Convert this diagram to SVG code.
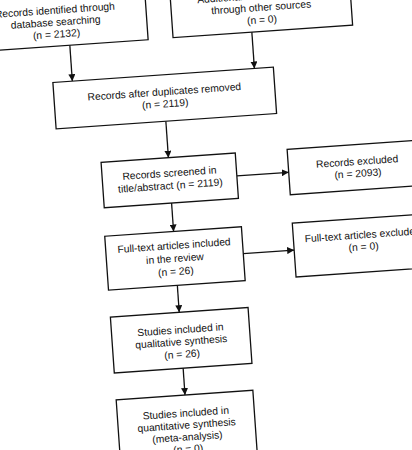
<svg xmlns="http://www.w3.org/2000/svg" width="412" height="450" viewBox="0 0 412 450">
  <style>
    .box { fill: #ffffff; stroke: #111111; stroke-width: 1.3; }
    .lbl { font-family: "Liberation Sans", Arial, sans-serif; font-size: 10.3px; fill: #111111; text-anchor: middle; }
    .conn { stroke: #111111; stroke-width: 1.3; fill: none; marker-end: url(#arrow); }
  </style>
  <defs>
    <marker id="arrow" viewBox="0 0 8 8" refX="8" refY="4" markerWidth="7" markerHeight="7" markerUnits="userSpaceOnUse" orient="auto">
      <path d="M0,0 L8,4 L0,8 Z" fill="#111111"/>
    </marker>
  </defs>
  <rect x="0" y="0" width="412" height="450" fill="#ffffff"/>
  <g transform="rotate(-4)">
    <g id="connectors">
      <line class="conn" x1="66.5" y1="50" x2="66.5" y2="86"/>
      <line class="conn" x1="249" y1="49.6" x2="249" y2="86"/>
      <line class="conn" x1="157" y1="132.5" x2="157" y2="169"/>
      <line class="conn" x1="224" y1="192" x2="276" y2="192"/>
      <line class="conn" x1="157" y1="214.5" x2="157" y2="243"/>
      <line class="conn" x1="225" y1="270" x2="276" y2="270"/>
      <line class="conn" x1="157" y1="297" x2="157" y2="324"/>
      <line class="conn" x1="157" y1="380" x2="157" y2="407"/>
    </g>
    <g id="db-search">
      <rect class="box" x="-35" y="-10" width="180" height="60"/>
      <text class="lbl" x="54" y="17.5">Records identified through</text>
      <text class="lbl" x="54" y="29.5">database searching</text>
      <text class="lbl" x="54" y="41.5">(n = 2132)</text>
    </g>
    <g id="other-sources">
      <rect class="box" x="170" y="-10" width="180" height="59.6"/>
      <text class="lbl" x="260" y="17">Additional records identified</text>
      <text class="lbl" x="260" y="29">through other sources</text>
      <text class="lbl" x="260" y="41.5">(n = 0)</text>
    </g>
    <g id="duplicates-removed">
      <rect class="box" x="47" y="86" width="221" height="46.5"/>
      <text class="lbl" x="157.5" y="106.5">Records after duplicates removed</text>
      <text class="lbl" x="157.5" y="118.5">(n = 2119)</text>
    </g>
    <g id="screened">
      <rect class="box" x="89.5" y="169" width="134.5" height="45.5"/>
      <text class="lbl" x="157" y="188">Records screened in</text>
      <text class="lbl" x="157" y="200.5">title/abstract (n = 2119)</text>
    </g>
    <g id="records-excluded">
      <rect class="box" x="276" y="169" width="138" height="45.5"/>
      <text class="lbl" x="345" y="189.5">Records excluded</text>
      <text class="lbl" x="345" y="201.5">(n = 2093)</text>
    </g>
    <g id="fulltext-included">
      <rect class="box" x="88" y="243" width="137" height="54"/>
      <text class="lbl" x="156.5" y="260.5">Full-text articles included</text>
      <text class="lbl" x="156.5" y="273.5">in the review</text>
      <text class="lbl" x="156.5" y="286.5">(n = 26)</text>
    </g>
    <g id="fulltext-excluded">
      <rect class="box" x="276" y="243" width="139" height="54"/>
      <text class="lbl" x="345.5" y="263">Full-text articles excluded</text>
      <text class="lbl" x="345.5" y="275">(n = 0)</text>
    </g>
    <g id="qualitative">
      <rect class="box" x="88" y="324" width="138" height="56"/>
      <text class="lbl" x="157" y="345">Studies included in</text>
      <text class="lbl" x="157" y="357">qualitative synthesis</text>
      <text class="lbl" x="157" y="369.5">(n = 26)</text>
    </g>
    <g id="quantitative">
      <rect class="box" x="88" y="407" width="137" height="70"/>
      <text class="lbl" x="156.5" y="428.5">Studies included in</text>
      <text class="lbl" x="156.5" y="440.5">quantitative synthesis</text>
      <text class="lbl" x="156.5" y="452.5">(meta-analysis)</text>
      <text class="lbl" x="156.5" y="464.5">(n = 0)</text>
    </g>
  </g>
</svg>
